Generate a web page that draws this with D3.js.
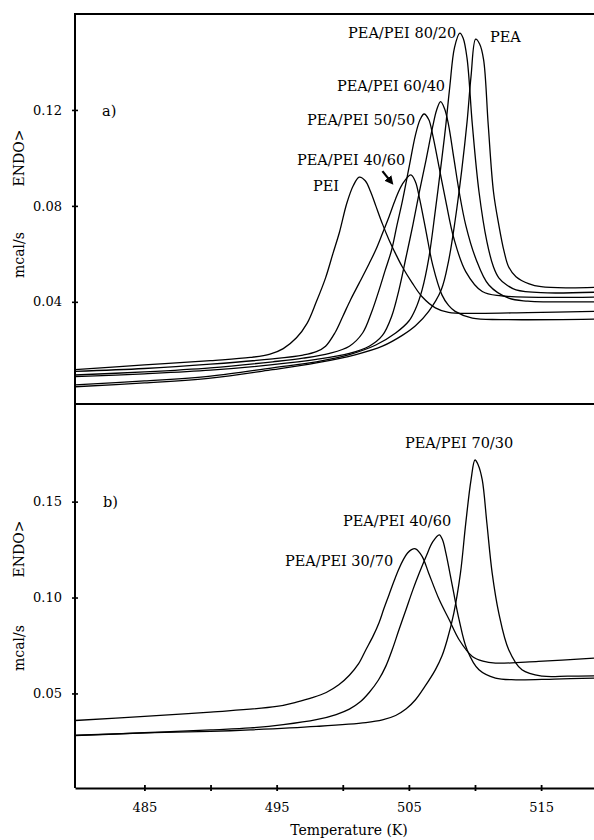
<!DOCTYPE html>
<html>
<head>
<meta charset="utf-8">
<script src="https://cdn.jsdelivr.net/npm/d3@7"></script>
<style>
  html, body { margin: 0; padding: 0; background: #fff; }
  svg { display: block; }
  text { font-family: "DejaVu Serif", "Liberation Serif", serif; fill: #000; }
</style>
</head>
<body>
<svg id="chart" width="594" height="840"></svg>
<script>
// ---------------- DATA ----------------
// Panel a) series: [Temperature (K), heat flow (mcal/s)]
const seriesNamesA = ["PEI", "PEA/PEI 40/60", "PEA/PEI 50/50", "PEA/PEI 60/40", "PEA/PEI 80/20", "PEA"];
const peiA = [[479.75,0.0117],[485,0.0137],[490,0.0155],[493,0.0168],[494.5,0.0182],[495.5,0.0205],[496.5,0.0250],[497.3,0.0310],[498,0.0400],[498.7,0.0500],[499.25,0.0600],[499.75,0.0690],[500.3,0.0810],[500.8,0.0885],[501.25,0.0920],[501.7,0.0905],[502.1,0.0860],[502.5,0.0800],[503,0.0725],[503.5,0.0658],[504,0.0600],[504.5,0.0546],[505.25,0.0479],[506,0.0421],[507,0.0375],[508,0.0356],[510,0.0352],[514,0.0355],[519,0.0360]];
const pea40A = [[479.75,0.0110],[485,0.0122],[490,0.0140],[494.7,0.0162],[497,0.0178],[498,0.0192],[498.7,0.0215],[499.4,0.0270],[500,0.0339],[500.6,0.0410],[501.25,0.0479],[502,0.0560],[502.5,0.0617],[503,0.0685],[503.5,0.0755],[504,0.0830],[504.5,0.0890],[505.15,0.0929],[505.5,0.0900],[505.8,0.0832],[506.3,0.0693],[506.8,0.0554],[507.5,0.0429],[508,0.0385],[508.5,0.0360],[509.8,0.0332],[512,0.0326],[519,0.0328]];
const pea50A = [[479.75,0.0095],[485,0.0108],[490,0.0125],[494.7,0.0150],[497,0.0165],[499,0.0185],[500.5,0.0215],[501.5,0.0270],[502.2,0.0360],[502.75,0.0450],[503.2,0.0530],[503.7,0.0617],[504.1,0.0720],[504.5,0.0818],[505,0.0957],[505.5,0.1096],[505.85,0.1160],[506.15,0.1183],[506.5,0.1160],[506.8,0.1096],[507.3,0.0957],[507.8,0.0818],[508.4,0.0665],[509.3,0.0526],[510.55,0.0443],[512,0.0425],[519,0.0420]];
const pea60A = [[479.75,0.0088],[485,0.0100],[490,0.0115],[494.7,0.0138],[498,0.0160],[500.5,0.0185],[502,0.0215],[503,0.0260],[503.7,0.0340],[504.25,0.0450],[504.8,0.0590],[505.3,0.0720],[505.8,0.0860],[506.3,0.0992],[506.8,0.1130],[507.1,0.1200],[507.4,0.1235],[507.7,0.1205],[508,0.1138],[508.4,0.0999],[508.8,0.0860],[509.3,0.0720],[510.05,0.0582],[511.05,0.0470],[512.55,0.0415],[514,0.0403],[519,0.0400]];
const pea80A = [[479.75,0.0054],[485,0.0070],[490,0.0090],[494.7,0.0125],[498,0.0150],[500.5,0.0180],[502.5,0.0220],[504,0.0270],[505,0.0320],[505.5,0.0370],[506,0.0450],[506.5,0.0580],[507,0.0780],[507.5,0.1000],[507.8,0.1140],[508.1,0.1300],[508.45,0.1460],[508.85,0.1520],[509.1,0.1500],[509.4,0.1415],[509.8,0.1138],[510.3,0.0860],[510.9,0.0651],[511.4,0.0545],[511.8,0.0500],[512.4,0.0470],[513.1,0.0450],[515,0.0438],[519,0.0440]];
const peaA = [[479.75,0.0046],[485,0.0062],[490,0.0082],[494.7,0.0117],[498,0.0145],[501,0.0180],[503,0.0215],[504.5,0.0260],[505.5,0.0300],[506.5,0.0360],[507.45,0.0450],[508,0.0570],[508.5,0.0740],[509,0.0950],[509.4,0.1150],[509.7,0.1340],[510.05,0.1495],[510.35,0.1475],[510.65,0.1410],[511,0.1138],[511.4,0.0858],[511.8,0.0721],[512.2,0.0610],[512.55,0.0545],[513.1,0.0505],[514.1,0.0475],[515,0.0463],[517,0.0458],[519,0.0460]];

// Panel b) series
const seriesNamesB = ["PEA/PEI 30/70", "PEA/PEI 40/60", "PEA/PEI 70/30"];
const pea30B = [[479.75,0.0359],[485,0.0380],[490,0.0403],[495,0.0432],[496.5,0.0455],[497.7,0.0478],[498.75,0.0505],[499.7,0.0545],[500.5,0.0595],[501.2,0.0655],[501.75,0.0728],[502.3,0.0800],[502.75,0.0870],[503.1,0.0940],[503.5,0.1015],[503.9,0.1090],[504.25,0.1150],[504.6,0.1200],[504.9,0.1232],[505.2,0.1250],[505.5,0.1254],[506,0.1215],[506.5,0.1127],[507.3,0.0988],[508.05,0.0884],[508.8,0.0780],[509.8,0.0693],[510.6,0.0668],[511.55,0.0658],[514.8,0.0667],[519,0.0684]];
const pea40B = [[479.75,0.0282],[485,0.0295],[490,0.0310],[493,0.0320],[495.5,0.0337],[498,0.0363],[499.5,0.0390],[500.5,0.0418],[501.3,0.0455],[502,0.0505],[502.7,0.0570],[503.25,0.0641],[503.75,0.0730],[504.25,0.0832],[504.8,0.0940],[505.3,0.1040],[505.8,0.1130],[506.3,0.1214],[506.8,0.1290],[507.3,0.1327],[507.55,0.1300],[507.8,0.1231],[508.3,0.1057],[508.8,0.0884],[509.4,0.0728],[510.3,0.0623],[511.55,0.0580],[513.1,0.0571],[516,0.0575],[519,0.0580]];
const pea70B = [[479.75,0.0280],[485,0.0294],[490,0.0302],[493,0.0310],[498,0.0328],[501.75,0.0348],[503,0.0362],[504,0.0385],[504.8,0.0420],[505.5,0.0467],[506.2,0.0535],[507,0.0623],[507.5,0.0695],[507.9,0.0780],[508.4,0.0919],[508.9,0.1127],[509.3,0.1387],[509.7,0.1613],[510,0.1717],[510.25,0.1690],[510.55,0.1613],[510.9,0.1387],[511.3,0.1127],[511.8,0.0919],[512.55,0.0728],[513.55,0.0623],[515.1,0.0590],[517,0.0590],[519,0.0592]];

// Ticks
const xTicks = [485, 490, 495, 500, 505, 510, 515];
const xTickLabels = ["485", "", "495", "", "505", "", "515"];
const yTicksA = [0.04, 0.08, 0.12];
const yTicksB = [0.05, 0.10, 0.15];

// Label anchors (in data units)
const labelsA = [
  {text: "PEA/PEI 80/20", t: 500.4, v: 0.1500},
  {text: "PEA", t: 511.13, v: 0.1483},
  {text: "PEA/PEI 60/40", t: 499.56, v: 0.1279},
  {text: "PEA/PEI 50/50", t: 497.3, v: 0.1137},
  {text: "PEA/PEI 40/60", t: 496.54, v: 0.0970},
  {text: "PEI", t: 497.75, v: 0.0862},
  {text: "a)", t: 481.8, v: 0.1175}
];
const labelsB = [
  {text: "PEA/PEI 70/30", t: 504.71, v: 0.1780},
  {text: "PEA/PEI 40/60", t: 500.02, v: 0.1373},
  {text: "PEA/PEI 30/70", t: 495.63, v: 0.1165},
  {text: "b)", t: 481.87, v: 0.1472}
];
const arrowA = {t0: 503.0, v0: 0.0945, t1: 503.62, v1: 0.0902};

// ---------------- CHART ----------------
const svg = d3.select("#chart");
svg.append("rect").attr("width", 594).attr("height", 840).attr("fill", "#fff");

const x = d3.scaleLinear().domain([479.75, 519]).range([75, 594]);
const yA = d3.scaleLinear().domain([-0.0026, 0.16]).range([404, 14]);
const yB = d3.scaleLinear().domain([0.0007, 0.2009]).range([788, 404]);

const defs = svg.append("defs");
defs.append("clipPath").attr("id", "clipA").append("rect")
  .attr("x", 75).attr("y", 14).attr("width", 519).attr("height", 390);
defs.append("clipPath").attr("id", "clipB").append("rect")
  .attr("x", 75).attr("y", 404).attr("width", 519).attr("height", 384);
defs.append("marker").attr("id", "arrowHead")
  .attr("viewBox", "0 0 10 10").attr("refX", 5).attr("refY", 5)
  .attr("markerWidth", 4).attr("markerHeight", 4).attr("orient", "auto")
  .append("path").attr("d", "M0,0 L10,5 L0,10 z").attr("fill", "#000");

function drawPanel(yScale, clipId, seriesList, yTicks, labels) {
  const line = d3.line()
    .x(d => x(d[0])).y(d => yScale(d[1]))
    .curve(d3.curveCatmullRom.alpha(0.5));
  const g = svg.append("g").attr("clip-path", `url(#${clipId})`);
  g.selectAll("path.curve").data(seriesList).join("path")
    .attr("class", "curve")
    .attr("d", d => line(d))
    .attr("fill", "none").attr("stroke", "#000").attr("stroke-width", 1.3);

  // y axis
  const ax = svg.append("g").attr("transform", "translate(75,0)")
    .call(d3.axisLeft(yScale).tickValues(yTicks).tickFormat(d3.format(".2f"))
      .tickSizeInner(3).tickSizeOuter(0).tickPadding(10));
  ax.select(".domain").remove();
  ax.selectAll(".tick line").attr("x1", -3).attr("x2", 3).attr("stroke-width", 1.6);
  ax.selectAll(".tick text").attr("font-size", 13)
    .attr("font-family", "DejaVu Serif, serif").attr("fill", "#000");

  svg.append("g").selectAll("text.lab").data(labels).join("text")
    .attr("class", "lab")
    .attr("x", d => x(d.t)).attr("y", d => yScale(d.v))
    .attr("font-size", 14.5)
    .text(d => d.text);
}

drawPanel(yA, "clipA", [peiA, pea40A, pea50A, pea60A, pea80A, peaA], yTicksA, labelsA);
drawPanel(yB, "clipB", [pea30B, pea40B, pea70B], yTicksB, labelsB);

// Arrow annotation in panel a
svg.append("line")
  .attr("x1", x(arrowA.t0)).attr("y1", yA(arrowA.v0))
  .attr("x2", x(arrowA.t1)).attr("y2", yA(arrowA.v1))
  .attr("stroke", "#000").attr("stroke-width", 2.2)
  .attr("marker-end", "url(#arrowHead)");

// Frame lines
const frame = svg.append("g").attr("stroke", "#000").attr("stroke-width", 2).attr("fill", "none");
frame.append("line").attr("x1", 75).attr("x2", 75).attr("y1", yA.range()[1]).attr("y2", yB.range()[0]);
frame.append("line").attr("x1", 74).attr("x2", 594).attr("y1", yA.range()[1]).attr("y2", yA.range()[1]);
frame.append("line").attr("x1", 74).attr("x2", 594).attr("y1", yA.range()[0]).attr("y2", yA.range()[0]);

// x axis
const xAx = svg.append("g").attr("transform", `translate(0,${yB.range()[0]})`)
  .call(d3.axisBottom(x).tickValues(xTicks).tickFormat((d, i) => xTickLabels[i])
    .tickSizeInner(3).tickSizeOuter(0).tickPadding(12));
xAx.select(".domain").attr("stroke-width", 2);
xAx.selectAll(".tick line").attr("y1", -3).attr("y2", 3).attr("stroke-width", 1.8);
xAx.selectAll(".tick text").attr("font-size", 13)
  .attr("font-family", "DejaVu Serif, serif").attr("fill", "#000");

// Axis titles
svg.append("text").attr("x", 349).attr("y", 835).attr("text-anchor", "middle")
  .attr("font-size", 14).text("Temperature (K)");

function yTitle(text, cy) {
  svg.append("text").attr("transform", `translate(24,${cy}) rotate(-90)`)
    .attr("text-anchor", "middle").attr("font-size", 14).text(text);
}
yTitle("ENDO>", 158);
yTitle("mcal/s", 255);
yTitle("ENDO>", 549);
yTitle("mcal/s", 648);
</script>
</body>
</html>
